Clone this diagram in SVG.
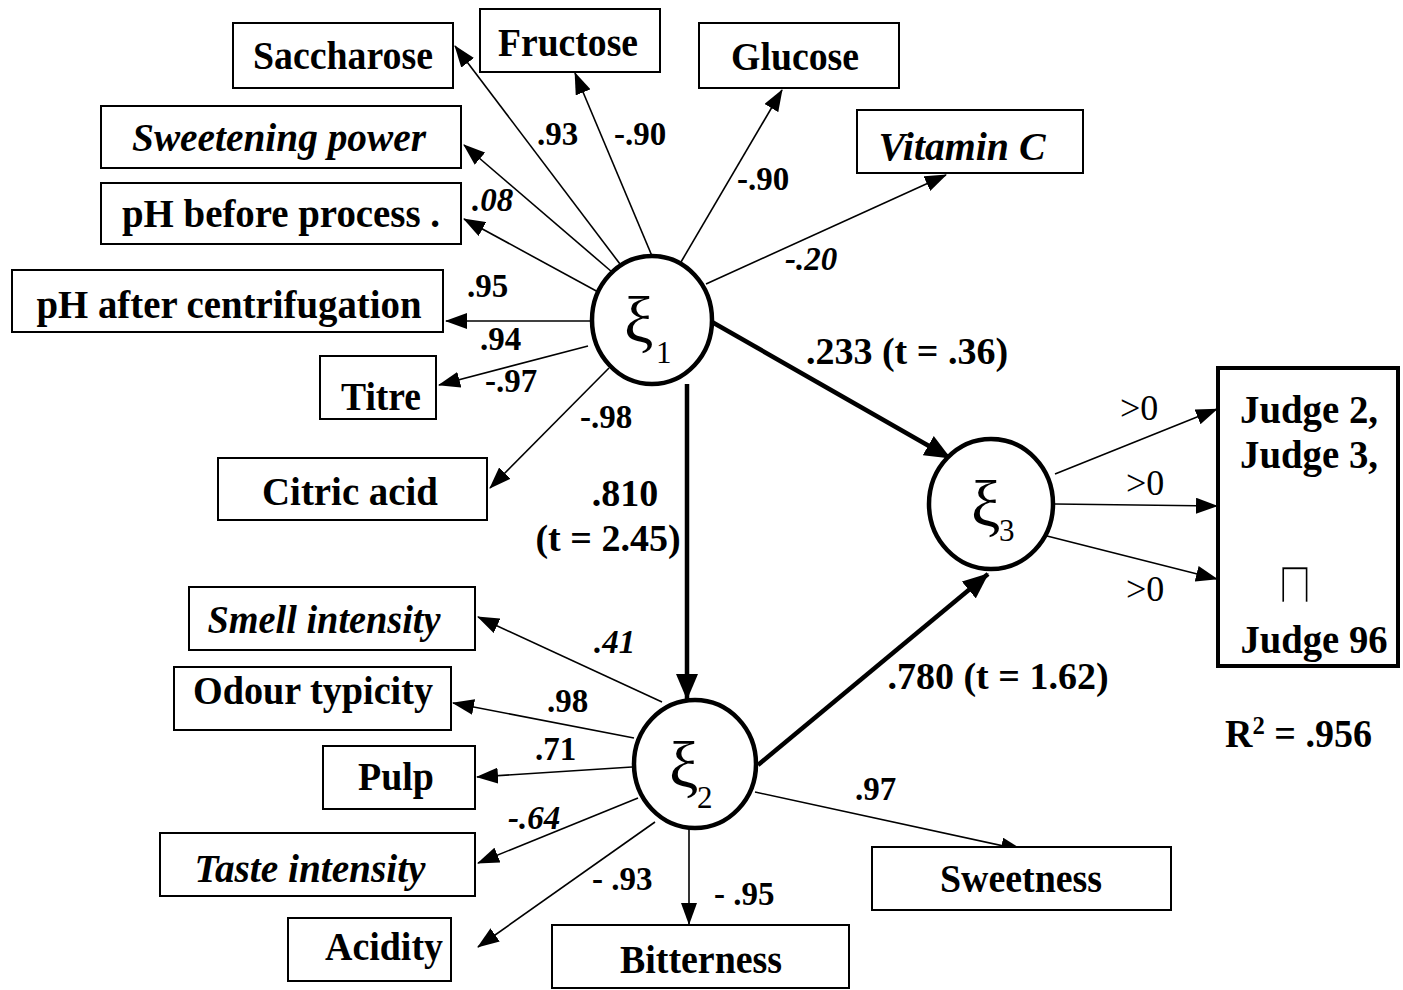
<svg xmlns="http://www.w3.org/2000/svg" width="1403" height="990" viewBox="0 0 1403 990">
<style>
.box{fill:#fff;stroke:#000;stroke-width:2}
.lat{fill:#fff;stroke:#000;stroke-width:4.5}
.t{font-family:"Liberation Serif","Times New Roman",serif;font-weight:bold;font-size:40px;fill:#000}
.i{font-style:italic}
.l{font-family:"Liberation Serif","Times New Roman",serif;font-weight:bold;font-size:33px;fill:#000}
.p{font-family:"Liberation Serif","Times New Roman",serif;font-weight:bold;font-size:38px;fill:#000}
.g{font-family:"Liberation Serif","Times New Roman",serif;font-size:36px;fill:#000}
.xi{font-family:"Liberation Serif","Times New Roman",serif;font-size:66px;fill:#000}
.sub{font-family:"Liberation Serif","Times New Roman",serif;font-size:31px;fill:#000}
.thin{stroke:#000;stroke-width:1.6;fill:none;marker-end:url(#ah)}
.thick{stroke:#000;stroke-width:4.5;fill:none;marker-end:url(#ahb)}
</style>
<defs>
<marker id="ah" markerUnits="userSpaceOnUse" markerWidth="22" markerHeight="16" refX="21" refY="8" orient="auto"><path d="M0,0 L22,8 L0,16 z" fill="#000"/></marker>
<marker id="ahb" markerUnits="userSpaceOnUse" markerWidth="26" markerHeight="22" refX="25" refY="11" orient="auto"><path d="M0,0 L26,11 L0,22 z" fill="#000"/></marker>
</defs>
<rect width="1403" height="990" fill="#fff"/>
<g id="connectors">
<line class="thin" x1="620" y1="264" x2="455" y2="46"/>
<line class="thin" x1="652" y1="256" x2="575" y2="73"/>
<line class="thin" x1="681" y1="262" x2="782" y2="90"/>
<line class="thin" x1="706" y1="284" x2="946" y2="175"/>
<line class="thin" x1="612" y1="272" x2="464" y2="145"/>
<line class="thin" x1="600" y1="293" x2="464" y2="219"/>
<line class="thin" x1="591" y1="321" x2="446" y2="321"/>
<line class="thin" x1="588" y1="346" x2="439" y2="385"/>
<line class="thin" x1="609" y1="368" x2="490" y2="488"/>
<line class="thick" x1="687" y1="384" x2="687" y2="699"/>
<line class="thick" x1="712" y1="322" x2="950" y2="458"/>
<line class="thick" x1="758" y1="765" x2="988" y2="574"/>
<line class="thin" x1="1055" y1="474" x2="1217" y2="409"/>
<line class="thin" x1="1055" y1="504" x2="1217" y2="506"/>
<line class="thin" x1="1047" y1="536" x2="1217" y2="579"/>
<line class="thin" x1="662" y1="702" x2="478" y2="617"/>
<line class="thin" x1="634" y1="738" x2="453" y2="703"/>
<line class="thin" x1="632" y1="767" x2="477" y2="777"/>
<line class="thin" x1="638" y1="798" x2="478" y2="863"/>
<line class="thin" x1="655" y1="822" x2="478" y2="947"/>
<line class="thin" x1="689" y1="829" x2="689" y2="924"/>
<line class="thin" x1="755" y1="792" x2="1022" y2="850"/>
</g>
<g id="edge-labels">
<text class="l" x="537" y="145">.93</text>
<text class="l" x="614" y="145">-.90</text>
<text class="l" x="737" y="190">-.90</text>
<text class="l i" x="785" y="270">-.20</text>
<text class="l i" x="472" y="211">.08</text>
<text class="l" x="467" y="297">.95</text>
<text class="l" x="480" y="350">.94</text>
<text class="l" x="485" y="392">-.97</text>
<text class="l" x="580" y="428">-.98</text>
<text class="p" x="625" y="506" text-anchor="middle">.810</text>
<text class="p" x="608" y="551" text-anchor="middle">(t = 2.45)</text>
<text class="p" x="907" y="364" text-anchor="middle">.233 (t = .36)</text>
<text class="p" x="998" y="689" text-anchor="middle">.780 (t = 1.62)</text>
<text class="g" x="1120" y="420">&gt;0</text>
<text class="g" x="1126" y="495">&gt;0</text>
<text class="g" x="1126" y="601">&gt;0</text>
<text class="l i" x="594" y="653">.41</text>
<text class="l" x="547" y="712">.98</text>
<text class="l" x="535" y="760">.71</text>
<text class="l i" x="508" y="829">-.64</text>
<text class="l" x="592" y="890">- .93</text>
<text class="l" x="714" y="905">- .95</text>
<text class="l" x="855" y="800">.97</text>
<text class="t" x="1225" y="747" textLength="147" lengthAdjust="spacingAndGlyphs">R<tspan font-size="26" dy="-13">2</tspan><tspan dy="13"> = .956</tspan></text>
</g>
<g id="xi1"><ellipse class="lat" cx="652" cy="320" rx="60" ry="64"/><text class="xi" x="624" y="342">ξ</text><text class="sub" x="656" y="363">1</text></g>
<g id="xi2"><ellipse class="lat" cx="695" cy="764" rx="61" ry="64"/><text class="xi" x="669" y="787">ξ</text><text class="sub" x="697" y="808">2</text></g>
<g id="xi3"><ellipse class="lat" cx="991" cy="504" rx="62" ry="65"/><text class="xi" x="971" y="526">ξ</text><text class="sub" x="999" y="541">3</text></g>
<g id="saccharose"><rect class="box" x="233" y="23" width="220" height="65"/><text class="t" x="343" y="69" text-anchor="middle" textLength="180" lengthAdjust="spacingAndGlyphs">Saccharose</text></g>
<g id="fructose"><rect class="box" x="480" y="9" width="180" height="63"/><text class="t" x="568" y="56" text-anchor="middle" textLength="140" lengthAdjust="spacingAndGlyphs">Fructose</text></g>
<g id="glucose"><rect class="box" x="699" y="23" width="200" height="65"/><text class="t" x="795" y="70" text-anchor="middle" textLength="128" lengthAdjust="spacingAndGlyphs">Glucose</text></g>
<g id="vitaminc"><rect class="box" x="857" y="110" width="226" height="63"/><text class="t i" x="962" y="160" text-anchor="middle" textLength="167" lengthAdjust="spacingAndGlyphs">Vitamin  C</text></g>
<g id="sweeteningpower"><rect class="box" x="101" y="106" width="360" height="62"/><text class="t i" x="279" y="151" text-anchor="middle" textLength="294" lengthAdjust="spacingAndGlyphs">Sweetening  power</text></g>
<g id="phbefore"><rect class="box" x="101" y="183" width="360" height="61"/><text class="t" x="281" y="227" text-anchor="middle" textLength="318" lengthAdjust="spacingAndGlyphs">pH before process .</text></g>
<g id="phafter"><rect class="box" x="12" y="270" width="431" height="62"/><text class="t" x="229" y="318" text-anchor="middle" textLength="385" lengthAdjust="spacingAndGlyphs">pH after centrifugation</text></g>
<g id="titre"><rect class="box" x="320" y="356" width="116" height="63"/><text class="t" x="381" y="410" text-anchor="middle" textLength="80" lengthAdjust="spacingAndGlyphs">Titre</text></g>
<g id="citricacid"><rect class="box" x="218" y="458" width="269" height="62"/><text class="t" x="350" y="505" text-anchor="middle" textLength="176" lengthAdjust="spacingAndGlyphs">Citric acid</text></g>
<g id="judges"><rect x="1218" y="368" width="180" height="298" fill="#fff" stroke="#000" stroke-width="4"/><text class="t" x="1309" y="423" text-anchor="middle" textLength="138" lengthAdjust="spacingAndGlyphs">Judge 2,</text><text class="t" x="1309" y="468" text-anchor="middle" textLength="138" lengthAdjust="spacingAndGlyphs">Judge 3,</text><text x="1295" y="603" text-anchor="middle" font-family="DejaVu Sans, sans-serif" font-size="46" fill="#000" stroke="#fff" stroke-width="2.2" transform="translate(1295,603) scale(1.05,1.3) translate(-1295,-603)">⊓</text><text class="t" x="1314" y="653" text-anchor="middle" textLength="147" lengthAdjust="spacingAndGlyphs">Judge 96</text></g>
<g id="smell"><rect class="box" x="189" y="587" width="286" height="63"/><text class="t i" x="324" y="633" text-anchor="middle" textLength="233" lengthAdjust="spacingAndGlyphs">Smell intensity</text></g>
<g id="odour"><rect class="box" x="174" y="667" width="277" height="63"/><text class="t" x="313" y="704" text-anchor="middle" textLength="240" lengthAdjust="spacingAndGlyphs">Odour typicity</text></g>
<g id="pulp"><rect class="box" x="323" y="746" width="152" height="63"/><text class="t" x="396" y="790" text-anchor="middle" textLength="76" lengthAdjust="spacingAndGlyphs">Pulp</text></g>
<g id="taste"><rect class="box" x="160" y="833" width="315" height="63"/><text class="t i" x="310" y="882" text-anchor="middle" textLength="231" lengthAdjust="spacingAndGlyphs">Taste intensity</text></g>
<g id="acidity"><rect class="box" x="288" y="918" width="163" height="63"/><text class="t" x="384" y="960" text-anchor="middle" textLength="118" lengthAdjust="spacingAndGlyphs">Acidity</text></g>
<g id="bitterness"><rect class="box" x="552" y="925" width="297" height="63"/><text class="t" x="701" y="973" text-anchor="middle" textLength="162" lengthAdjust="spacingAndGlyphs">Bitterness</text></g>
<g id="sweetness"><rect class="box" x="872" y="847" width="299" height="63"/><text class="t" x="1021" y="892" text-anchor="middle" textLength="162" lengthAdjust="spacingAndGlyphs">Sweetness</text></g>
</svg>
